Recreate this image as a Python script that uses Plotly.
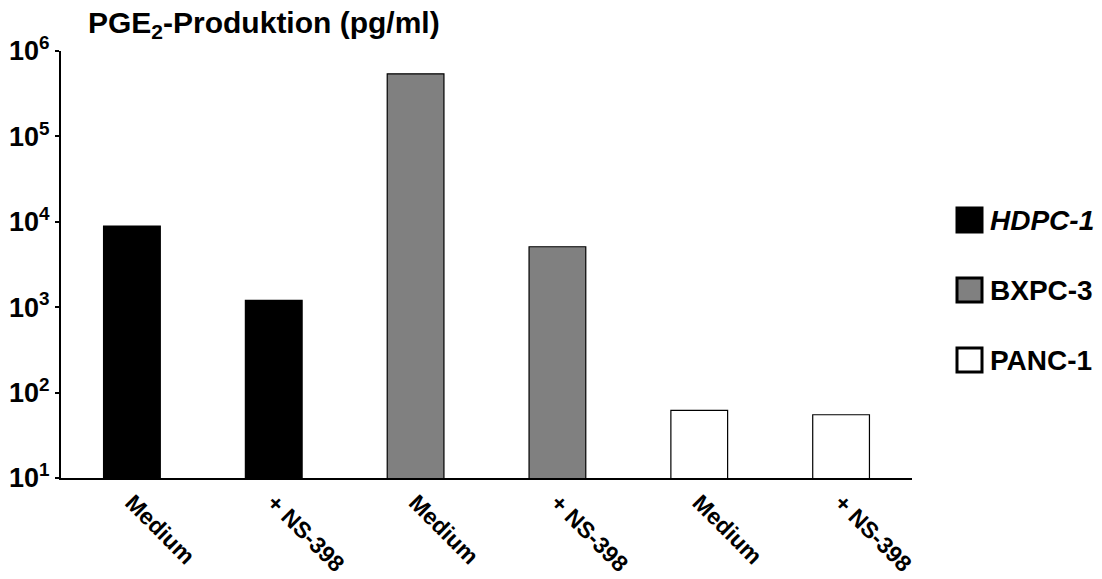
import plotly.graph_objects as go

# ---- data ----
groups = ["HDPC-1", "BXPC-3", "PANC-1"]
group_colors = ["#000000", "#808080", "#ffffff"]
x_labels = ["Medium", "+ NS-398", "Medium", "+ NS-398", "Medium", "+ NS-398"]
hdpc_values = [8900, 1200]
bxpc_values = [540000, 5100]
panc_values = [62, 55]
y_tickvals = [10, 100, 1000, 10000, 100000, 1000000]
y_ticktext = ["10<sup>1</sup>", "10<sup>2</sup>", "10<sup>3</sup>", "10<sup>4</sup>", "10<sup>5</sup>", "10<sup>6</sup>"]

FONT = "Arial, 'Liberation Sans', sans-serif"

W, H = 1102, 579
ML, MR, MT, MB = 61, 190, 51, 101

fig = go.Figure()
series = [hdpc_values, bxpc_values, panc_values]
for gi, (name, vals, col) in enumerate(zip(groups, series, group_colors)):
    xs = [gi * 2 + k for k in range(len(vals))]
    fig.add_trace(go.Bar(
        x=xs, y=vals, name=name, width=0.4,
        marker=dict(color=col, line=dict(color="#000000", width=1.2)),
        showlegend=False,
    ))

fig.update_layout(
    width=W, height=H,
    margin=dict(l=ML, r=MR, t=MT, b=MB, autoexpand=False),
    paper_bgcolor="white", plot_bgcolor="white",
    barmode="overlay",
    font=dict(family=FONT, color="black", weight="bold"),
)
fig.update_xaxes(
    range=[-0.5, 5.5], automargin=False,
    tickmode="array", tickvals=list(range(len(x_labels))), ticktext=x_labels,
    tickangle=45, ticks="", ticklen=0, showgrid=False, zeroline=False,
    showline=True, linecolor="black", linewidth=2,
    tickfont=dict(size=23, family=FONT, color="black", weight="bold"),
)
fig.update_yaxes(
    type="log", range=[1, 6], automargin=False,
    tickmode="array", tickvals=y_tickvals, ticktext=y_ticktext,
    ticks="outside", ticklen=4, tickwidth=1.5, tickcolor="black",
    showgrid=False, zeroline=False,
    showline=True, linecolor="black", linewidth=2,
    tickfont=dict(size=27, family=FONT, color="black", weight="bold"),
)

# title
pw = W - ML - MR
ph = H - MT - MB
fig.add_annotation(
    text="PGE<sub>2</sub>-Produktion (pg/ml)",
    xref="paper", yref="paper", x=(86 - ML) / pw, y=(H - MB - 25) / ph,
    xanchor="left", yanchor="middle", showarrow=False,
    font=dict(size=30, family=FONT, color="black", weight="bold"),
)

# legend (manual)
leg_y = [220, 290, 360]
for name, col, yc in zip(groups, group_colors, leg_y):
    x0 = (957 - ML) / pw
    x1 = (982 - ML) / pw
    y0 = (H - MB - (yc + 12)) / ph
    y1 = (H - MB - (yc - 12)) / ph
    fig.add_shape(type="rect", xref="paper", yref="paper", x0=x0, x1=x1, y0=y0, y1=y1,
                  fillcolor=col, line=dict(color="black", width=3))
    fig.add_annotation(text=name, xref="paper", yref="paper",
                       x=(988 - ML) / pw, y=(H - MB - yc) / ph,
                       xanchor="left", yanchor="middle", showarrow=False,
                       font=dict(size=28, family=FONT, color="black", weight="bold",
                                 style="italic" if name == "HDPC-1" else "normal"))

fig.write_html("out.html")
